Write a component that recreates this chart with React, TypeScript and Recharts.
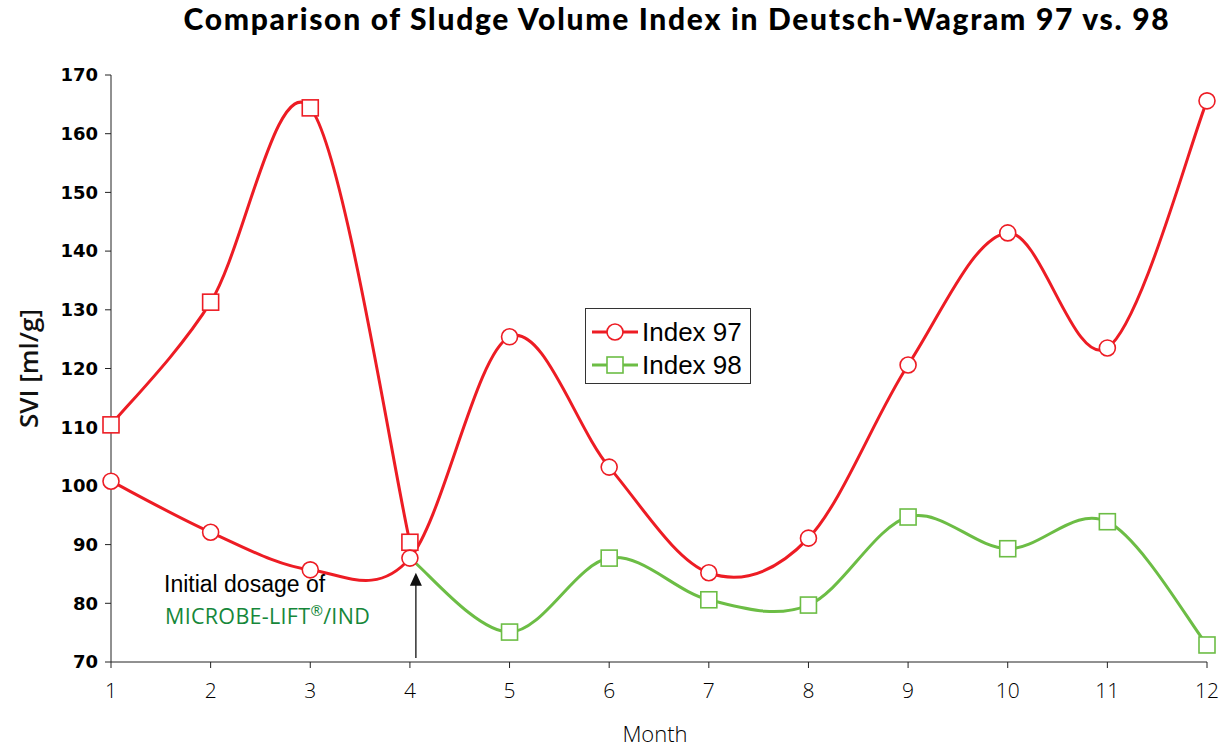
import { Legend, Line, LineChart, ReferenceLine, XAxis, YAxis } from 'recharts';

const months = [1, 2, 3, 4, 5, 6, 7, 8, 9, 10, 11, 12];
const index97 = [100.8, 92.1, 85.7, 87.7, 125.4, 103.2, 85.2, 91.1, 120.6, 143.1, 123.5, 165.6];
// 98 before the first dose is drawn in red, after it in green
const index98Before = [110.4, 131.3, 164.4, 90.4, null, null, null, null, null, null, null, null];
const index98After = [null, null, null, 87.7, 75.1, 87.7, 80.6, 79.7, 94.7, 89.3, 93.9, 72.9];
const yTicks = [70, 80, 90, 100, 110, 120, 130, 140, 150, 160, 170];

const data = months.map((m, i) => ({
  month: m,
  idx97: index97[i],
  idx98pre: index98Before[i],
  idx98: index98After[i],
}));

const RED = '#ED1C24';
const GREEN = '#6CBD45';

// Excel style smoothed line (catmull-rom as cubic bezier)
const excelCurve = (ctx: any) => {
  let pts: number[][] = [];
  return {
    areaStart() {},
    areaEnd() {},
    lineStart() {
      pts = [];
    },
    point(x: number, y: number) {
      pts.push([+x, +y]);
    },
    lineEnd() {
      const n = pts.length;
      if (!n) return;
      ctx.moveTo(pts[0][0], pts[0][1]);
      for (let i = 0; i < n - 1; i++) {
        const p0 = pts[Math.max(i - 1, 0)];
        const p1 = pts[i];
        const p2 = pts[i + 1];
        const p3 = pts[Math.min(i + 2, n - 1)];
        ctx.bezierCurveTo(
          p1[0] + (p2[0] - p0[0]) / 6,
          p1[1] + (p2[1] - p0[1]) / 6,
          p2[0] - (p3[0] - p1[0]) / 6,
          p2[1] - (p3[1] - p1[1]) / 6,
          p2[0],
          p2[1],
        );
      }
    },
  };
};

const circleDot = (color: string) => (props: any) => {
  const { cx, cy, index } = props;
  if (cx == null || cy == null) return <g key={`c${index}`} />;
  return <circle key={`c${index}`} cx={cx} cy={cy} r={8} fill="#fff" stroke={color} strokeWidth={1.6} />;
};

const squareDot = (color: string, skip: number[] = []) => (props: any) => {
  const { cx, cy, index, payload } = props;
  if (cx == null || cy == null || skip.includes(payload.month)) return <g key={`s${index}`} />;
  return (
    <rect key={`s${index}`} x={cx - 8} y={cy - 8} width={16} height={16} fill="#fff" stroke={color} strokeWidth={1.6} />
  );
};

const YTitle = (props: any) => {
  const { viewBox } = props;
  const y = viewBox.y + viewBox.height / 2;
  return (
    <text
      x={28}
      y={y}
      transform={`rotate(-90 28 ${y})`}
      textAnchor="middle"
      dominantBaseline="central"
      fontFamily="'Open Sans', sans-serif"
      fontWeight={600}
      fontSize={26}
      fill="#111"
    >
      SVI [ml/g]
    </text>
  );
};

const XTitle = () => (
  <text x={655} y={742} textAnchor="middle" fontFamily="'Open Sans', sans-serif" fontWeight={300} fontSize={22} fill="#000">
    Month
  </text>
);

const Arrow = (props: any) => {
  const { x1, y1, x2, y2 } = props;
  return (
    <g>
      <line x1={x1} y1={y1} x2={x2} y2={y2 + 10} stroke="#111" strokeWidth={1.3} />
      <polygon points={`${x2},${y2} ${x2 - 6},${y2 + 13} ${x2 + 6},${y2 + 13}`} fill="#111" />
    </g>
  );
};

const LegendBox = () => (
  <div
    style={{
      border: '1.5px solid #333',
      background: '#fff',
      width: 166,
      height: 76,
      boxSizing: 'border-box',
      fontFamily: "'Liberation Sans', Arial, sans-serif",
      fontSize: 26,
      color: '#000',
      paddingTop: 6,
    }}
  >
    {[
      { name: 'Index 97', color: RED, shape: 'circle' },
      { name: 'Index 98', color: GREEN, shape: 'square' },
    ].map((it) => (
      <div key={it.name} style={{ display: 'flex', alignItems: 'center', height: 33 }}>
        <svg width={52} height={24} style={{ marginLeft: 4 }}>
          <line x1={2} y1={12} x2={48} y2={12} stroke={it.color} strokeWidth={3} />
          {it.shape === 'circle' ? (
            <circle cx={25} cy={12} r={8} fill="#fff" stroke={it.color} strokeWidth={1.6} />
          ) : (
            <rect x={17} y={4} width={16} height={16} fill="#fff" stroke={it.color} strokeWidth={1.6} />
          )}
        </svg>
        <span style={{ lineHeight: 1 }}>{it.name}</span>
      </div>
    ))}
  </div>
);

export default function App() {
  return (
    <div style={{ position: 'absolute', left: 0, top: 0, width: 1230, height: 747, background: '#fff' }}>
      <div
        style={{
          position: 'absolute',
          left: 127,
          top: 0,
          width: 1100,
          textAlign: 'center',
          fontFamily: "Lato, 'DejaVu Sans', sans-serif",
          fontWeight: 900,
          fontSize: 30,
          letterSpacing: 1.7,
          color: '#000',
        }}
      >
        Comparison of Sludge Volume Index in Deutsch-Wagram 97 vs. 98
      </div>
      <div
        style={{
          position: 'absolute',
          left: 164,
          top: 571,
          fontFamily: "'Liberation Sans', Arial, sans-serif",
          fontSize: 23,
          color: '#000',
          lineHeight: '26px',
        }}
      >
        Initial dosage of
      </div>
      <div
        style={{
          position: 'absolute',
          left: 165,
          top: 603,
          fontFamily: "'Open Sans', sans-serif",
          fontWeight: 400,
          fontSize: 21.5,
          letterSpacing: 0.3,
          color: '#16873A',
          lineHeight: '26px',
        }}
      >
        MICROBE-LIFT<sup style={{ fontSize: 15, lineHeight: 0 }}>®</sup>/IND
      </div>
      <LineChart width={1230} height={747} data={data} margin={{ top: 75, right: 23, bottom: 55, left: 0 }}>
        <XAxis
          dataKey="month"
          type="number"
          domain={[1, 12]}
          ticks={months}
          interval={0}
          stroke="#222"
          tickSize={6}
          tickMargin={15}
          height={30}
          tick={{ fill: '#000', fontFamily: "'Open Sans', sans-serif", fontWeight: 300, fontSize: 21 }}
          label={<XTitle />}
        />
        <YAxis
          domain={[70, 170]}
          ticks={yTicks}
          interval={0}
          width={111}
          stroke="#222"
          tickSize={6}
          tickMargin={7}
          tick={{ fill: '#000', fontFamily: "'DejaVu Sans', sans-serif", fontWeight: 700, fontSize: 18 }}
          label={<YTitle />}
        />
        <ReferenceLine
          segment={[
            { x: 4.06, y: 70.7 },
            { x: 4.06, y: 85.2 },
          ]}
          shape={Arrow}
        />
        <Line
          dataKey="idx98"
          type={excelCurve as any}
          stroke={GREEN}
          strokeWidth={3}
          dot={squareDot(GREEN, [4])}
          isAnimationActive={false}
        />
        <Line
          dataKey="idx98pre"
          type={excelCurve as any}
          stroke={RED}
          strokeWidth={3}
          dot={squareDot(RED)}
          isAnimationActive={false}
        />
        <Line
          dataKey="idx97"
          type={excelCurve as any}
          stroke={RED}
          strokeWidth={3}
          dot={circleDot(RED)}
          isAnimationActive={false}
        />
        <Legend
          layout="vertical"
          verticalAlign="middle"
          align="center"
          wrapperStyle={{ left: 585, top: 308, width: 166, height: 76 }}
          content={<LegendBox />}
        />
      </LineChart>
    </div>
  );
}
